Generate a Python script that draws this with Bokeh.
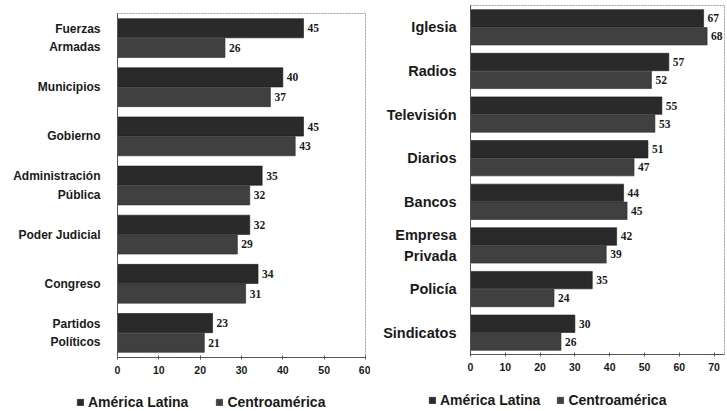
from bokeh.plotting import figure
from bokeh.layouts import row, column
from bokeh.models import (FactorRange, Range1d, ColumnDataSource, Legend, LegendItem,
                          FixedTicker, LabelSet)
from bokeh.transform import dodge
from bokeh.embed import file_html
from bokeh.resources import INLINE

# ---- data ----
left_categories = ["Fuerzas\nArmadas", "Municipios", "Gobierno", "Administración\nPública",
                   "Poder Judicial", "Congreso", "Partidos\nPolíticos"]
left_america_latina = [45, 40, 45, 35, 32, 34, 23]
left_centroamerica = [26, 37, 43, 32, 29, 31, 21]
left_ticks = [0, 10, 20, 30, 40, 50, 60]

right_categories = ["Iglesia", "Radios", "Televisión", "Diarios", "Bancos",
                    "Empresa\nPrivada", "Policía", "Sindicatos"]
right_america_latina = [67, 57, 55, 51, 44, 42, 35, 30]
right_centroamerica = [68, 52, 53, 47, 45, 39, 24, 26]
right_ticks = [0, 10, 20, 30, 40, 50, 60, 70]

series_names = ["América Latina", "Centroamérica"]

# ---- style ----
C_AL = "#2a2a2a"
C_CA = "#404040"
FONT = "Liberation Sans"


def make_panel(cats, al, ca, ticks, x_end, width, height, bl, br, bt, bb, off, bh,
               cat_standoff, cat_size):
    src = ColumnDataSource(dict(
        cat=cats, al=al, ca=ca,
        al_lbl=[str(v) for v in al], ca_lbl=[str(v) for v in ca]))
    p = figure(width=width, height=height, output_backend="svg", toolbar_location=None,
               y_range=FactorRange(factors=cats[::-1]),
               x_range=Range1d(ticks[0], x_end),
               min_border_left=bl, min_border_right=br,
               min_border_top=bt, min_border_bottom=bb)
    p.background_fill_color = "white"
    p.border_fill_color = "white"
    p.outline_line_color = "#9a9a9a"
    p.outline_line_width = 1
    p.outline_line_dash = "2 1"
    p.grid.visible = False

    p.hbar(y=dodge("cat", off, range=p.y_range), right="al", left=0, height=bh,
           source=src, fill_color=C_AL, line_color="#1a1a1a", line_width=0.6)
    p.hbar(y=dodge("cat", -off, range=p.y_range), right="ca", left=0, height=bh,
           source=src, fill_color=C_CA, line_color="#2a2a2a", line_width=0.6)

    for col, lbl, o in (("al", "al_lbl", off), ("ca", "ca_lbl", -off)):
        ls = LabelSet(x=col, y=dodge("cat", o, range=p.y_range), text=lbl, source=src,
                      x_offset=4, y_offset=0, text_baseline="middle", text_align="left",
                      text_font=FONT, text_font_size="11.5px", text_font_style="bold",
                      text_color="#1a1a1a")
        p.add_layout(ls)

    # x axis
    p.xaxis.ticker = FixedTicker(ticks=ticks)
    p.xaxis.axis_line_color = "#555555"
    p.xaxis.major_tick_line_color = "#555555"
    p.xaxis.major_tick_in = 2
    p.xaxis.major_tick_out = 2
    p.xaxis.minor_tick_line_color = None
    p.xaxis.major_label_standoff = 6
    p.xaxis.major_label_text_font = FONT
    p.xaxis.major_label_text_font_size = "10.5px"
    p.xaxis.major_label_text_font_style = "bold"
    p.xaxis.major_label_text_color = "#1a1a1a"

    # y axis
    p.yaxis.axis_line_color = "#555555"
    p.yaxis.major_tick_line_color = None
    p.yaxis.minor_tick_line_color = None
    p.yaxis.major_label_standoff = cat_standoff
    p.yaxis.major_label_text_font = FONT
    p.yaxis.major_label_text_font_size = cat_size
    p.yaxis.major_label_text_font_style = "bold"
    p.yaxis.major_label_text_color = "#1a1a1a"
    p.yaxis.major_label_text_line_height = 1.3
    return p


def make_legend(width, height, loc, spacing, al, ca):
    q = figure(width=width, height=height, output_backend="svg", toolbar_location=None,
               x_axis_location=None, y_axis_location=None,
               x_range=Range1d(0, 1), y_range=Range1d(0, 1),
               min_border=0)
    q.outline_line_color = None
    q.grid.visible = False
    q.background_fill_color = "white"
    q.border_fill_color = "white"
    # bars lie outside the visible 0..1 range; they only feed the legend swatches
    r1 = q.hbar(y=al, right=al, left=al, height=0.5,
                fill_color=C_AL, line_color="#1a1a1a", line_width=0.6)
    r2 = q.hbar(y=ca, right=ca, left=ca, height=0.5,
                fill_color=C_CA, line_color="#2a2a2a", line_width=0.6)
    legend = Legend(items=[LegendItem(label=series_names[0], renderers=[r1]),
                           LegendItem(label=series_names[1], renderers=[r2])],
                    location=loc, orientation="horizontal",
                    glyph_width=8, glyph_height=8, label_standoff=4,
                    label_height=16, spacing=spacing, padding=0, margin=0,
                    border_line_color=None, background_fill_alpha=0,
                    label_text_font=FONT, label_text_font_size="14px",
                    label_text_font_style="bold", label_text_color="#1a1a1a")
    q.add_layout(legend, "center")
    return q


p1 = make_panel(left_categories, left_america_latina, left_centroamerica, left_ticks, 60,
                width=370, height=390, bl=117, br=5, bt=13, bb=33,
                off=0.2, bh=0.39, cat_standoff=11, cat_size="12px")
p2 = make_panel(right_categories, right_america_latina, right_centroamerica, right_ticks, 73,
                width=357, height=390, bl=100, br=3, bt=5, bb=36,
                off=0.205, bh=0.4, cat_standoff=8, cat_size="14.5px")
l1 = make_legend(370, 21, (76, 1), 27, left_america_latina, left_centroamerica)
l2 = make_legend(357, 21, (58, 3), 16, right_america_latina, right_centroamerica)

layout = column(row(column(p1), column(p2)), row(l1, l2))
open("out.html", "w").write(file_html(layout, INLINE))
